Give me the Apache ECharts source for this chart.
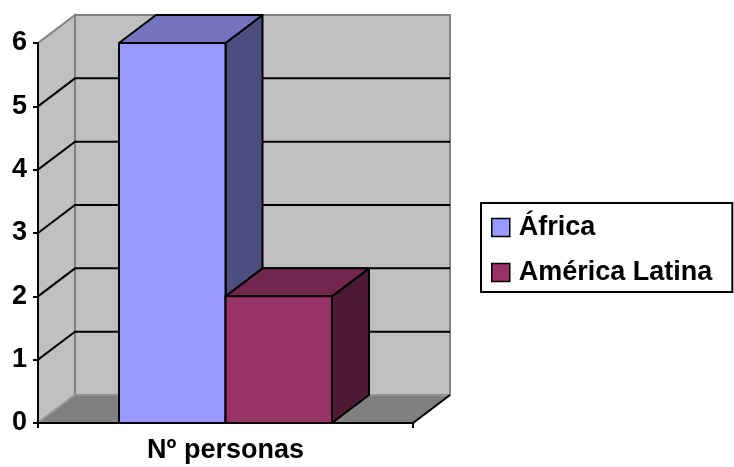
<!DOCTYPE html>
<html>
<head>
<meta charset="utf-8">
<script src="https://cdn.jsdelivr.net/npm/echarts@6/dist/echarts.min.js"></script>
<style>html,body{margin:0;padding:0;background:#fff;}#c{width:734px;height:467px;}</style>
</head>
<body>
<div id="c"></div>
<script>
const categories = ['Nº personas'];
const seriesNames = ['África', 'América Latina'];
const africa = [6];
const americaLatina = [2];
const yTicks = [0, 1, 2, 3, 4, 5, 6];

const FONT = '"Liberation Sans", Arial, sans-serif';
const DX = 37, DY = -28;
const faceColors = [
  { front: '#9999FF', top: '#7373BF', side: '#4D4D80' },
  { front: '#993366', top: '#73264D', side: '#4D1A33' }
];

const chart = echarts.init(document.getElementById('c'), null, { renderer: 'canvas' });

function wallsRender(params, api) {
  const cs = params.coordSys;
  const x0 = cs.x, x1 = cs.x + cs.width;
  const yb = api.coord([0, yTicks[0]])[1];
  const yt = api.coord([0, yTicks[yTicks.length - 1]])[1];
  const children = [];
  // back wall
  children.push({ type: 'rect', shape: { x: x0 + DX, y: yt + DY, width: cs.width, height: yb - yt },
    style: { fill: '#C0C0C0', stroke: '#808080', lineWidth: 2 } });
  // left wall
  children.push({ type: 'polygon', shape: { points: [[x0, yt], [x0 + DX, yt + DY], [x0 + DX, yb + DY], [x0, yb]] },
    style: { fill: '#C0C0C0', stroke: '#808080', lineWidth: 2 } });
  // floor
  children.push({ type: 'polygon', shape: { points: [[x0, yb], [x0 + DX, yb + DY], [x1 + DX, yb + DY], [x1, yb]] },
    style: { fill: '#808080', stroke: '#999999', lineWidth: 1.5 } });
  children.push({ type: 'line', shape: { x1: x1, y1: yb, x2: x1 + DX, y2: yb + DY },
    style: { stroke: '#000', lineWidth: 2 } });
  // gridlines
  for (let i = 1; i < yTicks.length - 1; i++) {
    const y = api.coord([0, yTicks[i]])[1];
    children.push({ type: 'polyline', shape: { points: [[x0, y], [x0 + DX, y + DY], [x1 + DX, y + DY]] },
      style: { stroke: '#000', lineWidth: 2, fill: null } });
  }
  return { type: 'group', children: children };
}

function barRender(idx) {
  return function (params, api) {
    const cat = api.value(0), v = api.value(1);
    const base = api.coord([cat, 0]);
    const top = api.coord([cat, v]);
    const band = api.size([1, 0])[0];
    const w = band * 0.284;
    const x0 = base[0] + (idx - 1) * w;
    const ty = top[1], by = base[1];
    const c = faceColors[idx];
    const st = { stroke: '#000', lineWidth: 2, lineJoin: 'round' };
    return {
      type: 'group',
      children: [
        { type: 'polygon', shape: { points: [[x0 + w, ty], [x0 + w + DX, ty + DY], [x0 + w + DX, by + DY], [x0 + w, by]] },
          style: Object.assign({ fill: c.side }, st) },
        { type: 'polygon', shape: { points: [[x0, ty], [x0 + w, ty], [x0 + w + DX, ty + DY], [x0 + DX, ty + DY]] },
          style: Object.assign({ fill: c.top }, st) },
        { type: 'rect', shape: { x: x0, y: ty, width: w, height: by - ty },
          style: Object.assign({ fill: c.front }, st) }
      ]
    };
  };
}

chart.setOption({
  animation: false,
  backgroundColor: '#fff',
  grid: { left: 38, right: 321, top: 43, bottom: 44, containLabel: false },
  legend: {
    data: seriesNames,
    orient: 'vertical',
    left: 481, top: 203,
    padding: [11, 20, 6, 10],
    itemWidth: 18, itemHeight: 18, itemGap: 18,
    icon: 'rect',
    borderColor: '#000', borderWidth: 2,
    itemStyle: { borderColor: '#000', borderWidth: 1.5 },
    textStyle: { fontFamily: FONT, fontWeight: 'bold', fontSize: 27, color: '#000', padding: [0, 0, 0, 4] }
  },
  xAxis: {
    type: 'category', data: categories, z: 10,
    axisLine: { lineStyle: { color: '#000', width: 2 } },
    axisTick: { show: true, length: 5, lineStyle: { color: '#000', width: 2 } },
    axisLabel: { fontFamily: FONT, fontWeight: 'bold', fontSize: 27, color: '#000', margin: 14 },
    splitLine: { show: false }
  },
  yAxis: {
    type: 'value', min: 0, max: 6, interval: 1, z: 10,
    axisLine: { show: true, lineStyle: { color: '#000', width: 2 } },
    axisTick: { show: true, length: 5, lineStyle: { color: '#000', width: 2 } },
    axisLabel: { fontFamily: FONT, fontWeight: 'bold', fontSize: 27, color: '#000', margin: 11 },
    splitLine: { show: false }
  },
  series: [
    { type: 'custom', name: 'walls', renderItem: wallsRender, data: [[0, 0]], z: 1, silent: true },
    { type: 'custom', name: seriesNames[0], renderItem: barRender(0), data: africa.map((v, i) => [i, v]),
      itemStyle: { color: faceColors[0].front }, encode: { x: 0, y: 1 }, z: 2 },
    { type: 'custom', name: seriesNames[1], renderItem: barRender(1), data: americaLatina.map((v, i) => [i, v]),
      itemStyle: { color: faceColors[1].front }, encode: { x: 0, y: 1 }, z: 3 }
  ]
});
</script>
</body>
</html>
